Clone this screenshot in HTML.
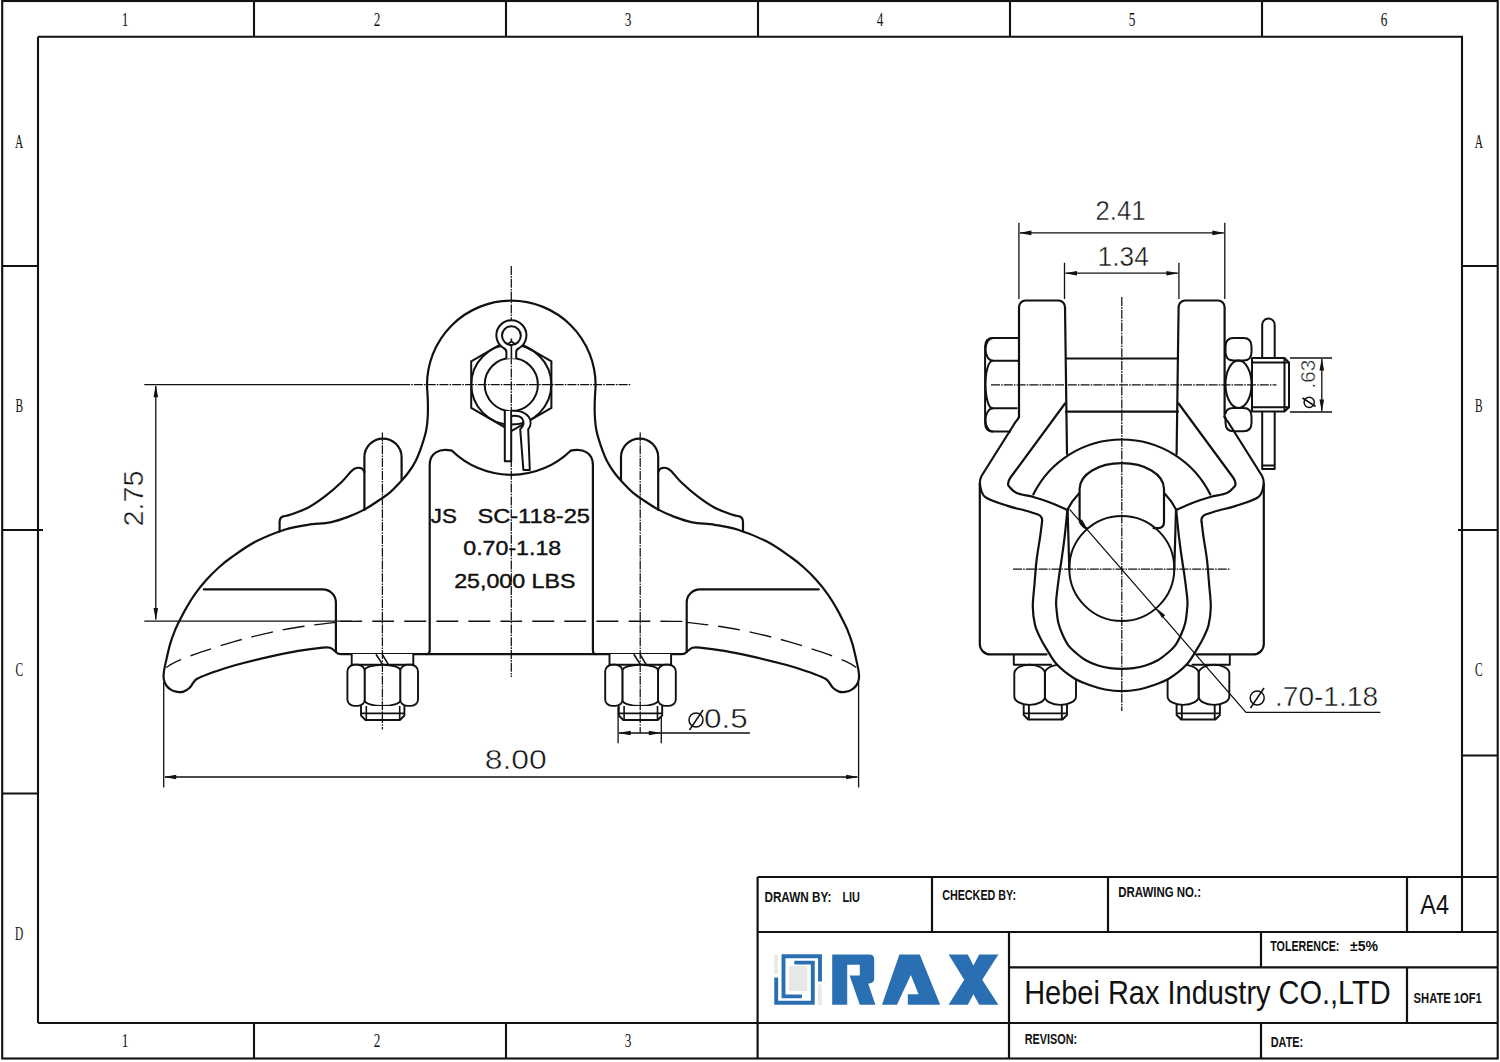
<!DOCTYPE html>
<html><head><meta charset="utf-8">
<style>
html,body{margin:0;padding:0;background:#fff;width:1500px;height:1062px;overflow:hidden}
svg{position:absolute;left:0;top:0;display:block}
</style></head><body>
<svg width="1500" height="1062" viewBox="0 0 1500 1062">
<g fill="none" stroke="#111" stroke-width="2.1">
<rect x="2.2" y="1" width="1495.5" height="1057.5"/>
<path d="M38 36.7H1462V932M38 36.7V1023"/>
<path d="M254 1V37M506 1V37M758 1V37M1010 1V37M1262 1V37M254 1023V1058.5M506 1023V1058.5"/>
<path d="M2.2 266H38M2.2 530H43M2.2 793.5H38M1462 266H1497.7M1458 530H1497.7M1462 755.5H1497.7"/>
</g>
<g font-family="Liberation Serif, serif" font-size="19" fill="#111" text-anchor="middle">
<text transform="translate(125 25.8) scale(.7 1)">1</text>
<text transform="translate(377 25.8) scale(.7 1)">2</text>
<text transform="translate(628 25.8) scale(.7 1)">3</text>
<text transform="translate(880 25.8) scale(.7 1)">4</text>
<text transform="translate(1132 25.8) scale(.7 1)">5</text>
<text transform="translate(1384 25.8) scale(.7 1)">6</text>
<text transform="translate(125 1047) scale(.7 1)">1</text>
<text transform="translate(377 1047) scale(.7 1)">2</text>
<text transform="translate(628 1047) scale(.7 1)">3</text>
<text transform="translate(19.2 147.9) scale(.6 1)">A</text>
<text transform="translate(19.2 411.8) scale(.6 1)">B</text>
<text transform="translate(19.2 676) scale(.6 1)">C</text>
<text transform="translate(19.2 940.2) scale(.6 1)">D</text>
<text transform="translate(1478.8 147.9) scale(.6 1)">A</text>
<text transform="translate(1478.8 411.8) scale(.6 1)">B</text>
<text transform="translate(1478.8 676) scale(.6 1)">C</text>
</g>
<g fill="none" stroke="#111" stroke-width="2.2">
  <path d="M757.6 877H1497.7M757.6 932H1497.7M757.6 877V1058.5M932 877V932M1108 877V932M1407 877V932"/>
  <path d="M1009 932V1058.5M1009 967.3H1497.7M1261 932V967.3M1261 1023V1058.5M1407 967.3V1023M38 1023H1497.7"/>
</g>
<g font-family="Liberation Sans, sans-serif" font-weight="bold" font-size="14" fill="#111">
  <text x="764.4" y="901.8" textLength="67" lengthAdjust="spacingAndGlyphs">DRAWN BY:</text>
  <text x="842.4" y="901.8" textLength="17.6" lengthAdjust="spacingAndGlyphs">LIU</text>
  <text x="942.2" y="899.8" textLength="73.8" lengthAdjust="spacingAndGlyphs">CHECKED BY:</text>
  <text x="1118.2" y="896.8" textLength="82.8" lengthAdjust="spacingAndGlyphs">DRAWING NO.:</text>
  <text x="1270.3" y="950.7" textLength="69" lengthAdjust="spacingAndGlyphs">TOLERENCE:</text>
  <text x="1350" y="950.7" textLength="28" lengthAdjust="spacingAndGlyphs">±5%</text>
  <text x="1024.7" y="1043.9" textLength="52.5" lengthAdjust="spacingAndGlyphs">REVISON:</text>
  <text x="1270.7" y="1046.7" textLength="32.5" lengthAdjust="spacingAndGlyphs">DATE:</text>
  <text x="1413.6" y="1002.9" textLength="68.2" lengthAdjust="spacingAndGlyphs">SHATE 1OF1</text>
</g>
<g font-family="Liberation Sans, sans-serif" fill="#111">
  <text x="1420.3" y="913.7" font-size="27" textLength="28.7" lengthAdjust="spacingAndGlyphs">A4</text>
  <text x="1024.2" y="1003.7" font-size="32.3" textLength="366.5" lengthAdjust="spacingAndGlyphs">Hebei Rax Industry CO.,LTD</text>
</g>
<g>
  <g fill="#e8e8e8">
    <rect x="789" y="966" width="18.2" height="25"/>
    <rect x="774.2" y="954.9" width="3.7" height="19.1"/>
    <rect x="818" y="984.5" width="3.7" height="20.5"/>
  </g>
  <g fill="none" stroke="#2b6fb3" stroke-width="3.9">
    <path d="M801.9 996.4H783.5V956.2H820V981.6"/>
    <path d="M776.2 977.6V1002.8H812.8V962.6H794.3"/>
  </g>
  <g fill="#2b6fb3">
    <path d="M832.2 954.4H869.4Q874.2 954.4 874.2 959.2V978.6Q874.2 983.4 869.4 983.4H868.2L875.4 1004.8H859.8L849.6 975.6H859.8V964.8H847.2V1004.8H832.2Z"/>
    <path d="M882 1004.8L899.4 954.4H919.8L940.2 1004.8H907.8V994.2H918.6L910.8 975L897 1004.8Z"/>
    <path d="M948.6 954.4H967.8L973.4 965.4L979.2 954.4H998.4L982.2 979.8L998.4 1004.8H979.2L973.4 994.2L967.8 1004.8H948.6L964.2 979.8Z"/>
  </g>
</g>
<g fill="none" stroke="#111" stroke-width="2.2" stroke-linejoin="round" stroke-linecap="round">
<path d="M511.3,300.7 A84.3,84.3 0 0 0 427,385.2 C427.13,390.22 427.67,395.1 427.8,400.1 C427.93,405.1 428.07,410.17 427.8,415.2 C427.53,420.23 427.18,425.28 426.2,430.3 C425.22,435.32 423.62,440.28 421.9,445.3 C420.18,450.32 418.15,455.87 415.9,460.4 C413.65,464.93 410.92,468.98 408.4,472.5 C405.88,476.02 403.82,478.23 400.8,481.5 C397.78,484.77 393.57,489.22 390.3,492.1 C387.03,494.98 385.47,495.92 381.2,498.8 C376.93,501.68 370.22,506.38 364.7,509.4 C359.18,512.42 353.82,514.75 348.1,516.9 C342.38,519.05 337.1,520.98 330.4,522.3 C323.7,523.62 315.42,523.6 307.9,524.8 C300.38,526 294,526.7 285.3,529.5 C276.6,532.3 264.72,536.93 255.7,541.6 C246.68,546.27 237.32,553.22 231.2,557.5 C225.08,561.78 223.08,563.62 219,567.3 C214.92,570.98 210.73,575.1 206.7,579.6 C202.67,584.1 198.15,589.67 194.8,594.3 C191.45,598.93 189.08,603.12 186.6,607.4 C184.12,611.68 181.9,616.02 179.9,620 C177.9,623.98 176.23,627.28 174.6,631.3 C172.97,635.32 171.48,639.33 170.1,644.1 C168.72,648.87 167.32,655.38 166.3,659.9 C165.28,664.42 164.43,668.05 164,671.2 C163.57,674.35 163.32,676.42 163.7,678.8 C164.08,681.18 164.98,683.62 166.3,685.5 C167.62,687.38 169.72,689.03 171.6,690.1 C173.48,691.17 175.6,691.65 177.6,691.9 C179.6,692.15 181.58,692.28 183.6,691.6 C185.62,690.92 188.07,689.32 189.7,687.8 C191.33,686.28 192.15,684 193.4,682.5 C194.65,681 194.82,680.18 197.2,678.8 C199.58,677.42 203.43,675.83 207.7,674.2 C211.97,672.57 218.25,670.5 222.8,669 C227.35,667.5 227.13,667.27 235,665.2 C242.87,663.13 259.47,658.98 270,656.6 C280.53,654.22 289.42,652.4 298.2,650.9 C306.98,649.4 317.37,648.12 322.7,647.6 C328.03,647.08 328,647.08 330.2,647.8 C332.4,648.52 334.95,651.22 335.9,651.9 Q338,654.2 341,654.2 H681.6 Q684.6,654.2 686.7,651.9 C687.65,651.22 690.2,648.52 692.4,647.8 C694.6,647.08 694.57,647.08 699.9,647.6 C705.23,648.12 715.62,649.4 724.4,650.9 C733.18,652.4 742.07,654.22 752.6,656.6 C763.13,658.98 779.73,663.13 787.6,665.2 C795.47,667.27 795.25,667.5 799.8,669 C804.35,670.5 810.63,672.57 814.9,674.2 C819.17,675.83 823.02,677.42 825.4,678.8 C827.78,680.18 827.95,681 829.2,682.5 C830.45,684 831.27,686.28 832.9,687.8 C834.53,689.32 836.98,690.92 839,691.6 C841.02,692.28 843,692.15 845,691.9 C847,691.65 849.12,691.17 851,690.1 C852.88,689.03 854.98,687.38 856.3,685.5 C857.62,683.62 858.52,681.18 858.9,678.8 C859.28,676.42 859.03,674.35 858.6,671.2 C858.17,668.05 857.32,664.42 856.3,659.9 C855.28,655.38 853.88,648.87 852.5,644.1 C851.12,639.33 849.63,635.32 848,631.3 C846.37,627.28 844.7,623.98 842.7,620 C840.7,616.02 838.48,611.68 836,607.4 C833.52,603.12 831.15,598.93 827.8,594.3 C824.45,589.67 819.93,584.1 815.9,579.6 C811.87,575.1 807.68,570.98 803.6,567.3 C799.52,563.62 797.52,561.78 791.4,557.5 C785.28,553.22 775.92,546.27 766.9,541.6 C757.88,536.93 746,532.3 737.3,529.5 C728.6,526.7 722.22,526 714.7,524.8 C707.18,523.6 698.9,523.62 692.2,522.3 C685.5,520.98 680.22,519.05 674.5,516.9 C668.78,514.75 663.42,512.42 657.9,509.4 C652.38,506.38 645.67,501.68 641.4,498.8 C637.13,495.92 635.57,494.98 632.3,492.1 C629.03,489.22 624.82,484.77 621.8,481.5 C618.78,478.23 616.72,476.02 614.2,472.5 C611.68,468.98 608.95,464.93 606.7,460.4 C604.45,455.87 602.42,450.32 600.7,445.3 C598.98,440.28 597.38,435.32 596.4,430.3 C595.42,425.28 595.07,420.23 594.8,415.2 C594.53,410.17 594.67,405.1 594.8,400.1 C594.93,395.1 595.47,390.22 595.6,385.2 A84.3,84.3 0 0 0 511.3,300.7"/>
<path d="M203.8,589.3 H322.7 A13.2,13.2 0 0 1 335.9,602.5 V651.9"/>
<path d="M364.4,510 V457.2 A18.6,18.6 0 0 1 401.6,457.2 V479.6"/>
<path d="M279.6,531.5 V522 Q279.6,517 284.2,516.2 C285.32,515.92 286.95,515.92 290.9,514.5 C294.85,513.08 302.23,510.72 307.9,507.7 C313.57,504.68 319.23,500.73 324.9,496.4 C330.57,492.07 337.55,485.85 341.9,481.7 C346.25,477.55 348.82,473.72 351,471.5 C353.18,469.28 353.58,469.02 355,468.4 C356.42,467.78 358.25,467.7 359.5,467.8 C360.75,467.9 361.68,468.3 362.5,469 C363.32,469.7 364.08,471.5 364.4,472"/>
<path d="M818.8,589.3 H699.9 A13.2,13.2 0 0 0 686.7,602.5 V651.9"/>
<path d="M658.2,510 V457.2 A18.6,18.6 0 0 0 621,457.2 V479.6"/>
<path d="M743,531.5 V522 Q743,517 738.4,516.2 C737.28,515.92 735.65,515.92 731.7,514.5 C727.75,513.08 720.37,510.72 714.7,507.7 C709.03,504.68 703.37,500.73 697.7,496.4 C692.03,492.07 685.05,485.85 680.7,481.7 C676.35,477.55 673.78,473.72 671.6,471.5 C669.42,469.28 669.02,469.02 667.6,468.4 C666.18,467.78 664.35,467.7 663.1,467.8 C661.85,467.9 660.92,468.3 660.1,469 C659.28,469.7 658.52,471.5 658.2,472"/>
<path d="M426.5,654.2 Q429.7,654.2 429.7,650 V465 C429.7,453 439,448 452,450.7 A85,85 0 0 0 570.6,450.7 C583.6,448 592.9,453 592.9,465 V650 Q592.9,654.2 596.1,654.2"/>
</g>
<g fill="none" stroke="#111" stroke-width="1.35" stroke-dasharray="22 10" stroke-dashoffset="11">
<path d="M511.3,621.3 C484.42,621.3 379.23,621.12 350,621.3 C320.77,621.48 341.4,621.85 335.9,622.4 C330.4,622.95 323.58,623.75 317,624.6 C310.42,625.45 304.23,626.17 296.4,627.5 C288.57,628.83 280.52,630.22 270,632.6 C259.48,634.98 244.55,638.63 233.3,641.8 C222.05,644.97 209.27,649.4 202.5,651.6 C195.73,653.8 197.48,653.12 192.7,655 C187.92,656.88 178.2,660.82 173.8,662.9 C169.4,664.98 167.55,666.73 166.3,667.5"/>
<path d="M511.3,621.3 C538.18,621.3 643.37,621.12 672.6,621.3 C701.83,621.48 681.2,621.85 686.7,622.4 C692.2,622.95 699.02,623.75 705.6,624.6 C712.18,625.45 718.37,626.17 726.2,627.5 C734.03,628.83 742.08,630.22 752.6,632.6 C763.12,634.98 778.05,638.63 789.3,641.8 C800.55,644.97 813.33,649.4 820.1,651.6 C826.87,653.8 825.12,653.12 829.9,655 C834.68,656.88 844.4,660.82 848.8,662.9 C853.2,664.98 855.05,666.73 856.3,667.5"/>
</g>
<g fill="none" stroke="#111" stroke-width="1.3">
<path d="M144.3,384.7 H401 M144.3,621.2 H352 M155.8,386 V619.5"/>
<path d="M163.7,682 V787.6 M858.6,682 V787.6 M165,777 H857.3"/>
<path d="M618.1,707 V743.3 M661.3,707 V743.3 M619,733 H749.9"/>
</g>
<path d="M155.8,384.7 L158.1,397.2 L153.5,397.2Z" fill="#111" stroke="none"/>
<path d="M155.8,620.4 L153.5,607.9 L158.1,607.9Z" fill="#111" stroke="none"/>
<path d="M163.7,777 L176.2,774.7 L176.2,779.3Z" fill="#111" stroke="none"/>
<path d="M858.6,777 L846.1,779.3 L846.1,774.7Z" fill="#111" stroke="none"/>
<path d="M618.1,733 L630.6,730.7 L630.6,735.3Z" fill="#111" stroke="none"/>
<path d="M661.3,733 L648.8,735.3 L648.8,730.7Z" fill="#111" stroke="none"/>
<g fill="#fff" stroke="#111" stroke-width="1.9" stroke-linejoin="round">
<path d="M351.7,654.1 V664.8 H413.3 V654.1"/>
<rect x="347.4" y="664.8" width="17.4" height="41.1" rx="7" ry="6.5"/>
<rect x="400.2" y="664.8" width="17.8" height="41.1" rx="7" ry="6.5"/>
<path d="M364.8,670.3 A17.7,5.5 0 0 1 400.2,670.3 V700.4 A17.7,5.5 0 0 1 364.8,700.4 Z"/>
<path d="M361,705.9 V715.5 L365.5,720 H399.9 L404.4,715.5 V705.9"/>
</g>
<g fill="none" stroke="#111" stroke-width="1.6">
<path d="M366.3,706 V720 M399.7,706 V720 M361,713.4 H404.4"/>
<path d="M376,654.3 L382.7,664.6 M382.3,654.3 L388.4,664.6"/>
</g>
<g fill="#fff" stroke="#111" stroke-width="1.9" stroke-linejoin="round">
<path d="M609.5,654.1 V664.8 H671.1 V654.1"/>
<rect x="605.2" y="664.8" width="17.4" height="41.1" rx="7" ry="6.5"/>
<rect x="658" y="664.8" width="17.8" height="41.1" rx="7" ry="6.5"/>
<path d="M622.6,670.3 A17.7,5.5 0 0 1 658,670.3 V700.4 A17.7,5.5 0 0 1 622.6,700.4 Z"/>
<path d="M618.8,705.9 V715.5 L623.3,720 H657.7 L662.2,715.5 V705.9"/>
</g>
<g fill="none" stroke="#111" stroke-width="1.6">
<path d="M624.1,706 V720 M657.5,706 V720 M618.8,713.4 H662.2"/>
<path d="M633.8,654.3 L640.5,664.6 M640.1,654.3 L646.2,664.6"/>
</g>
<g fill="none" stroke="#111" stroke-width="1.25" stroke-dasharray="9 1.1 1.6 1.1">
<path d="M401,384.7 H630.8"/>
<path d="M511.3,266 V677"/>
<path d="M382.4,432.5 V729.5"/>
<path d="M640.2,432.5 V733"/>
</g>
<g fill="none" stroke="#111" stroke-width="2">
<path d="M471.2,361.4 L511.3,338.2 L551.4,361.4 V407.8 L511.3,431 L471.2,407.8 Z"/>
<circle cx="511.3" cy="384.6" r="40"/>
<circle cx="511.3" cy="384.6" r="26.6"/>
</g>
<g fill="#fff" stroke="#111" stroke-width="2" stroke-linejoin="round">
<path d="M506.4,358.5 V352 Q506.4,349.5 503.5,348 A15,15 0 1 1 519.3,348 Q516.2,349.5 516.2,352 V358.5"/>
<circle cx="511.4" cy="335.6" r="9.4"/>
</g>
<path d="M511.4,338.5 V341.5 L506.8,344.5 M511.4,341.5 L516,344.5 M511.4,344 V358.5" fill="none" stroke="#111" stroke-width="1.6"/>
<g fill="#fff" stroke="#111" stroke-width="2" stroke-linejoin="round">
<path d="M504.8,411 V461.2 H511.2 V411"/>
<path d="M512,410.8 C518,410.3 525,412 528.8,417 C531.5,421 531,426 528.2,429.4 L529.8,470 H523.4 L520.2,429.4 C523.5,426 524.5,422 522.2,418.7 C520,416 516,415.6 512,416"/>
</g>
<g font-family="Liberation Sans, sans-serif" fill="#111" stroke="#111" stroke-width="0.4" font-size="20">
<text x="430.8" y="523.4" textLength="26" lengthAdjust="spacingAndGlyphs">JS</text>
<text x="477.4" y="523.4" textLength="112.6" lengthAdjust="spacingAndGlyphs">SC-118-25</text>
<text x="463.3" y="554.8" textLength="97.9" lengthAdjust="spacingAndGlyphs">0.70-1.18</text>
<text x="454.2" y="588.4" textLength="121.3" lengthAdjust="spacingAndGlyphs">25,000 LBS</text>
</g>
<g font-family="Liberation Sans, sans-serif" fill="#111" stroke="#fff" stroke-width="0.45" font-size="27">
<text x="484.8" y="769" textLength="62" lengthAdjust="spacingAndGlyphs">8.00</text>
<text x="704" y="727.9" textLength="43.7" lengthAdjust="spacingAndGlyphs">0.5</text>
<text transform="translate(143 526.4) rotate(-90)" textLength="56" lengthAdjust="spacingAndGlyphs">2.75</text>
</g>
<g fill="none" stroke="#111" stroke-width="1.5"><circle cx="696" cy="720" r="7"/><path d="M689.5,730 L703,710"/></g>
<g fill="none" stroke="#111" stroke-width="1.9" stroke-linejoin="round">
<path d="M1013.8,654.4 V664.8 H1052"/>
<path d="M1014.3,673.3 A15.3,8.5 0 0 1 1044.9,673.3 V696.4 A15.3,8.5 0 0 1 1014.3,696.4 Z"/>
<path d="M1044.9,673.3 A15.55,8.5 0 0 1 1076,673.3 V696.4 A15.55,8.5 0 0 1 1044.9,696.4 Z"/>
<path d="M1023.7,704.9 V715 L1028.2,719.5 H1062.5 L1067,715 V704.9 M1028.9,705 V719.5 M1061.8,705 V719.5 M1023.7,713.4 H1067"/>
<path d="M1229.8,654.4 V664.8 H1191.6"/>
<path d="M1198.7,673.3 A15.3,8.5 0 0 1 1229.3,673.3 V696.4 A15.3,8.5 0 0 1 1198.7,696.4 Z"/>
<path d="M1167.6,673.3 A15.55,8.5 0 0 1 1198.7,673.3 V696.4 A15.55,8.5 0 0 1 1167.6,696.4 Z"/>
<path d="M1176.6,704.9 V715 L1181.1,719.5 H1215.4 L1219.9,715 V704.9 M1181.8,705 V719.5 M1214.7,705 V719.5 M1176.6,713.4 H1219.9"/>
</g>
<g fill="none" stroke="#111" stroke-width="2.2" stroke-linejoin="round" stroke-linecap="round">
<path d="M1019,417 V307 A6.5,6.5 0 0 1 1025.5,300.5 H1058.5 A6.5,6.5 0 0 1 1065,307 L1067,454"/>
<path d="M1019,417 Q1018,419.5 1015.5,422 L981.5,476 Q979.8,479 979.8,484 V644 A10.4,10.4 0 0 0 990.2,654.4 H1046.5"/>
<path d="M1065,403.5 L1010.5,477.5 Q1007,482.5 1008.6,486 C1009.95,487.18 1012.58,491.27 1016.7,493.1 C1020.82,494.93 1027.75,495.43 1033.3,497 C1038.85,498.57 1044.32,500.37 1050,502.5 C1055.68,504.63 1064.5,508.58 1067.4,509.8"/>
<path d="M979.8,484 C980.67,486.13 980.35,493.15 985,496.8 C989.65,500.45 1001.03,503.62 1007.7,505.9 C1014.37,508.18 1019.95,509.07 1025,510.5 C1030.05,511.93 1035.83,513.83 1038,514.5 Q1043,516.5 1042,522"/>
<path d="M1224.6,417 V307 A6.5,6.5 0 0 0 1218.1,300.5 H1185.1 A6.5,6.5 0 0 0 1178.6,307 L1176.6,454"/>
<path d="M1224.6,417 Q1225.6,419.5 1228.1,422 L1262.1,476 Q1263.8,479 1263.8,484 V644 A10.4,10.4 0 0 1 1253.4,654.4 H1197.1"/>
<path d="M1178.6,403.5 L1233.1,477.5 Q1236.6,482.5 1235,486 C1233.65,487.18 1231.02,491.27 1226.9,493.1 C1222.78,494.93 1215.85,495.43 1210.3,497 C1204.75,498.57 1199.28,500.37 1193.6,502.5 C1187.92,504.63 1179.1,508.58 1176.2,509.8"/>
<path d="M1263.8,484 C1262.93,486.13 1263.25,493.15 1258.6,496.8 C1253.95,500.45 1242.57,503.62 1235.9,505.9 C1229.23,508.18 1223.65,509.07 1218.6,510.5 C1213.55,511.93 1207.77,513.83 1205.6,514.5 Q1200.6,516.5 1201.6,522"/>
<path fill="#fff" d="M1042,522 C1041.68,524.5 1041,530.67 1040.1,537 C1039.2,543.33 1037.53,552.13 1036.6,560 C1035.67,567.87 1035.13,576.4 1034.5,584.2 C1033.87,592 1032.72,600 1032.8,606.8 C1032.88,613.6 1033.8,619.9 1035,625 C1036.2,630.1 1038.22,633.63 1040,637.4 C1041.78,641.17 1042.87,643.07 1045.7,647.6 C1048.53,652.13 1052.28,659.5 1057,664.6 C1061.72,669.7 1068.33,674.72 1074,678.2 C1079.67,681.68 1085.83,683.62 1091,685.5 C1096.17,687.38 1099.87,688.55 1105,689.5 C1110.13,690.45 1116.2,691.2 1121.8,691.2 C1127.4,691.2 1133.47,690.45 1138.6,689.5 C1143.73,688.55 1147.43,687.38 1152.6,685.5 C1157.77,683.62 1163.93,681.68 1169.6,678.2 C1175.27,674.72 1181.88,669.7 1186.6,664.6 C1191.32,659.5 1195.07,652.13 1197.9,647.6 C1200.73,643.07 1201.82,641.17 1203.6,637.4 C1205.38,633.63 1207.4,630.1 1208.6,625 C1209.8,619.9 1210.72,613.6 1210.8,606.8 C1210.88,600 1209.73,592 1209.1,584.2 C1208.47,576.4 1207.93,567.87 1207,560 C1206.07,552.13 1204.4,543.33 1203.5,537 C1202.6,530.67 1201.92,524.5 1201.6,522"/>
<path d="M1067.4,509.8 C1066.93,514.35 1065.58,528.73 1064.6,537.1 C1063.62,545.47 1062.43,553.42 1061.5,560 C1060.57,566.58 1059.88,569.93 1059,576.6 C1058.12,583.27 1056.6,594.43 1056.2,600 C1055.8,605.57 1056.25,606.22 1056.6,610 C1056.95,613.78 1057.32,618.62 1058.3,622.7 C1059.28,626.78 1060.83,630.73 1062.5,634.5 C1064.17,638.27 1066.05,642.22 1068.3,645.3 C1070.55,648.38 1073.17,650.55 1076,653 C1078.83,655.45 1081.63,657.92 1085.3,660 C1088.97,662.08 1093.88,664.13 1098,665.5 C1102.12,666.87 1106.03,667.65 1110,668.2 C1113.97,668.75 1117.87,668.8 1121.8,668.8 C1125.73,668.8 1129.63,668.75 1133.6,668.2 C1137.57,667.65 1141.48,666.87 1145.6,665.5 C1149.72,664.13 1154.63,662.08 1158.3,660 C1161.97,657.92 1164.77,655.45 1167.6,653 C1170.43,650.55 1173.05,648.38 1175.3,645.3 C1177.55,642.22 1179.43,638.27 1181.1,634.5 C1182.77,630.73 1184.32,626.78 1185.3,622.7 C1186.28,618.62 1186.65,613.78 1187,610 C1187.35,606.22 1187.8,605.57 1187.4,600 C1187,594.43 1185.48,583.27 1184.6,576.6 C1183.72,569.93 1183.03,566.58 1182.1,560 C1181.17,553.42 1179.98,545.47 1179,537.1 C1178.02,528.73 1176.67,514.35 1176.2,509.8"/>
<path d="M1067.6,509.8 L1069.3,569"/>
<path d="M1067.4,509.8 A61.5,61.5 0 0 1 1078.8,493.7"/>
<path d="M1176,509.8 L1174.3,569"/>
<path d="M1176.2,509.8 A61.5,61.5 0 0 0 1164.8,493.7"/>
<path d="M1033.3,494.5 A98.7,98.7 0 0 1 1210.3,494.5"/>
<path d="M1087,528.6 Q1080,526 1079.6,519 V489 C1079.6,474 1099,463.2 1121.8,463.2 C1144.6,463.2 1164,474 1164,489 V522 Q1164,528.2 1158.1,528.2 H1153.6"/>
<path d="M1066,358.5 H1178 M1066,411.6 H1178"/>
</g>
<circle cx="1121.8" cy="568.5" r="52.5" fill="none" stroke="#111" stroke-width="2"/>
<g fill="none" stroke="#111" stroke-width="2" stroke-linejoin="round">
<path d="M1019,337.9 H993 Q985.1,337.9 985.1,346.5 V423 Q985.1,431.6 993,431.6 H1011"/>
<path d="M992,360.8 H1019 M992,408.3 H1017.5"/>
<path d="M993,337.9 A7.5,11.45 0 0 0 993,360.8 M993,408.3 A7.5,11.65 0 0 0 993,431.6 M992.5,360.8 A7,23.75 0 0 0 992.5,408.3"/>
<path d="M1225.5,346.5 Q1225.5,337.9 1233.5,337.9 H1243.5 Q1251.5,337.9 1251.5,346.5 V352 Q1251.5,360.6 1243.5,360.6 H1233.5 Q1225.5,360.6 1225.5,352 Z"/>
<path d="M1225.5,417 V422.7 Q1225.5,431.3 1233.5,431.3 H1243.5 Q1251.5,431.3 1251.5,422.7 V416.6 Q1251.5,408 1243.5,408 H1233.5 Q1226,408 1225.5,414"/>
<ellipse cx="1238.5" cy="384.3" rx="13" ry="23.7"/>
<path d="M1252,358 V411.6 M1251.5,358 H1284.5 L1289,362.4 V407.2 L1284.5,411.6 H1251.5 M1251.5,362.4 H1289 M1251.5,407.2 H1289 M1284.5,358 V411.6"/>
<path d="M1262.2,358 V324.8 A6.25,6.25 0 0 1 1274.7,324.8 V358 M1262.2,411.6 V468.9 H1274.7 V411.6 M1262.2,465.5 H1274.7"/>
</g>
<g fill="none" stroke="#111" stroke-width="1.3">
<path d="M1018.9,222.8 V299 M1224.8,222.8 V299 M1020,232.9 H1223.7"/>
<path d="M1064.5,262.8 V299 M1178.9,262.8 V299 M1065.6,273.2 H1177.8"/>
<path d="M1290,358 H1332 M1290,412 H1332 M1321.8,359 V411"/>
<path d="M1069.6,509.4 L1246,712.4 H1380.4"/>
</g>
<path d="M1018.9,232.9 L1031.4,230.6 L1031.4,235.2Z" fill="#111" stroke="none"/>
<path d="M1224.8,232.9 L1212.3,235.2 L1212.3,230.6Z" fill="#111" stroke="none"/>
<path d="M1064.5,273.2 L1077,270.9 L1077,275.5Z" fill="#111" stroke="none"/>
<path d="M1178.9,273.2 L1166.4,275.5 L1166.4,270.9Z" fill="#111" stroke="none"/>
<path d="M1321.8,358 L1324.1,370.5 L1319.5,370.5Z" fill="#111" stroke="none"/>
<path d="M1321.8,412 L1319.5,399.5 L1324.1,399.5Z" fill="#111" stroke="none"/>
<path d="M1087.4,528.9 L1078.52,522.04 L1081.85,519.15Z" fill="#111" stroke="none"/>
<path d="M1156.4,608.3 L1165.28,615.16 L1161.95,618.05Z" fill="#111" stroke="none"/>
<g fill="none" stroke="#111" stroke-width="1.25" stroke-dasharray="9 1.1 1.6 1.1">
<path d="M1121.8,297 V711"/>
<path d="M991,384.9 H1276.5"/>
<path d="M1013,569.2 H1230.6"/>
</g>
<g font-family="Liberation Sans, sans-serif" fill="#111" stroke="#fff" stroke-width="0.45" font-size="27">
<text x="1095.5" y="220.1" textLength="50.1" lengthAdjust="spacingAndGlyphs">2.41</text>
<text x="1097.6" y="265.5" textLength="51.2" lengthAdjust="spacingAndGlyphs">1.34</text>
<text x="1275" y="705.5" textLength="103" lengthAdjust="spacingAndGlyphs">.70-1.18</text>
<text transform="translate(1314.9 388.5) rotate(-90)" font-size="20.5" textLength="28.6" lengthAdjust="spacingAndGlyphs">.63</text>
</g>
<g fill="none" stroke="#111" stroke-width="1.5"><circle cx="1257.2" cy="698" r="7"/><path d="M1250.5,708 L1264,688"/>
<circle cx="1309.2" cy="402.3" r="5.1"/><path d="M1302.5,398 L1315.6,406.5"/></g>
</svg>
</body></html>
